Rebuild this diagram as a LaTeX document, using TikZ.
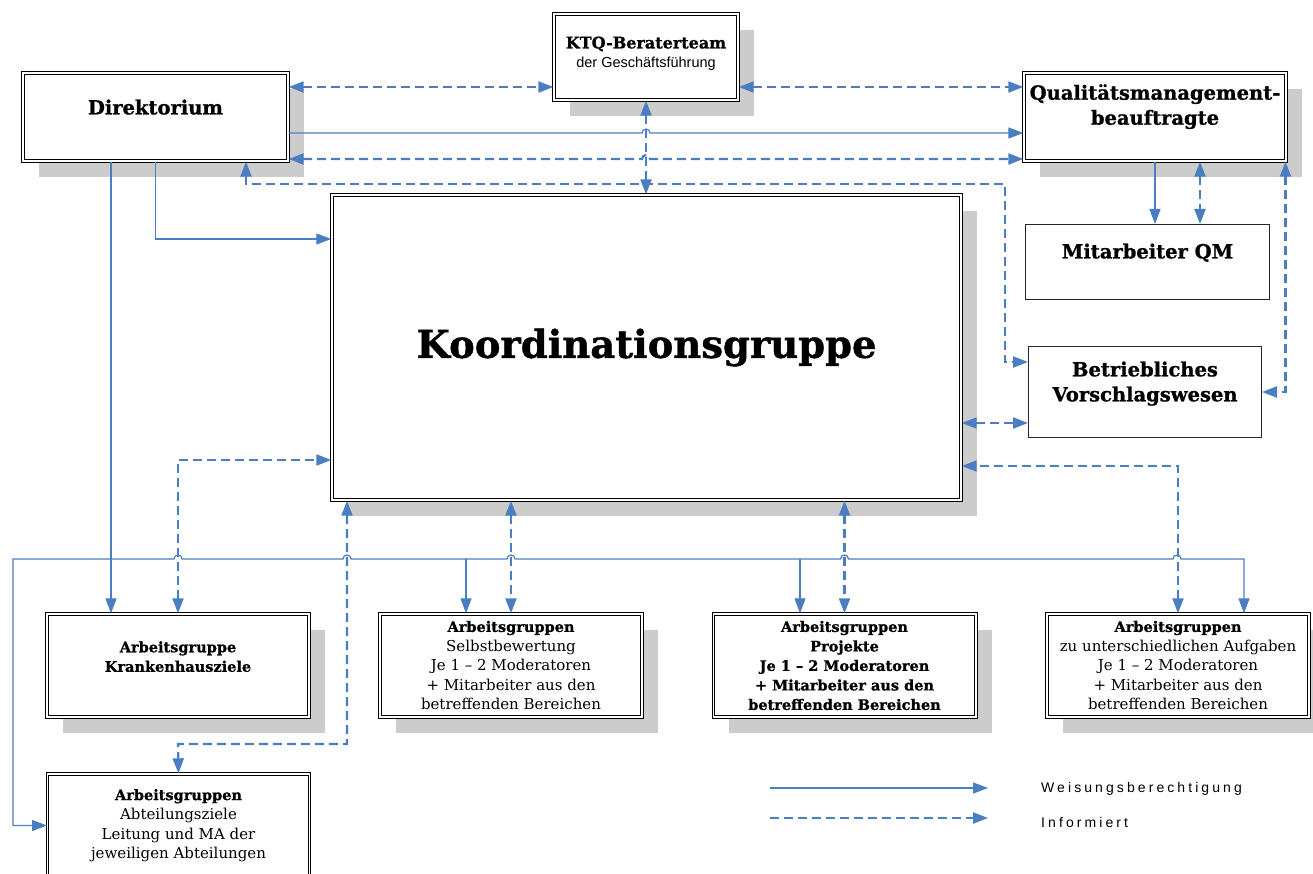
\documentclass[tikz,border=0pt]{standalone}
\usepackage{fontspec}
\setmainfont{DejaVu Serif}[BoldFeatures={FakeBold=1}]
\newfontfamily\legendfont[LetterSpace=22]{Liberation Sans}
\newfontfamily\ktqfont{Liberation Sans}
\newcommand{\grouptitle}[1]{{\bfseries\fontsize{14.5}{19.5}\selectfont #1}}
\usetikzlibrary{arrows.meta,shadows}
\definecolor{linkblue}{RGB}{74,126,193}
\definecolor{shadowgrey}{RGB}{204,204,204}

\begin{document}
\begin{tikzpicture}[x=1pt, y=-1pt, line join=miter,
    >={Triangle[length=15pt,width=11pt]},
    framed/.style={draw=black, double, double distance=1.6pt, line width=1pt, fill=white, inner sep=0pt, align=center},
    box/.style={framed, general shadow={fill=shadowgrey, shadow xshift=16pt, shadow yshift=-16pt}},
    plainbox/.style={draw=black!85, line width=1pt, fill=white, inner sep=0pt, align=center},
    head/.style={font=\bfseries\fontsize{19.5}{25}\selectfont},
    small/.style={font=\fontsize{15}{19.5}\selectfont},
    legend/.style={font=\legendfont\fontsize{14}{16}\selectfont, inner sep=0pt},
    rule/.style={draw=linkblue, line width=1.2pt},
    info/.style={draw=linkblue, line width=2.2pt, dash pattern=on 9pt off 5pt}]
    \useasboundingbox (0,0) rectangle (1313,874);

    % Leitung
    \node[box, head, minimum width=265.4pt, minimum height=88.4pt, text depth=20pt] (dir) at (155.5,117) {Direktorium};
    \node[box, minimum width=184.4pt, minimum height=86.4pt, text depth=10pt, font=\fontsize{16}{19}\selectfont] (ktq) at (646,57)
      {\textbf{KTQ-Beraterteam}\\{\ktqfont\fontsize{14.5}{19}\selectfont der Geschäftsführung}};
    \node[box, head, minimum width=262.4pt, minimum height=88.4pt, text depth=25pt] (qm) at (1155,117) {Qualitätsmanagement-\\beauftragte};
    \node[box, minimum width=629.4pt, minimum height=305.4pt, font=\bfseries\fontsize{38.5}{42}\selectfont] (koord) at (646.5,347.5) {Koordinationsgruppe};
    \node[plainbox, head, minimum width=244pt, minimum height=75pt, text depth=22pt] (maqm) at (1147.5,262) {Mitarbeiter QM};
    \node[plainbox, head, minimum width=233pt, minimum height=91pt, text height=23pt] (bvw) at (1145,392) {Betriebliches\\Vorschlagswesen};

    % Arbeitsgruppen
    \node[box, small, minimum width=262.4pt, minimum height=103.4pt, text depth=18pt] (khz) at (178,665.5)
      {\grouptitle{Arbeitsgruppe}\\\grouptitle{Krankenhausziele}};
    \node[box, small, minimum width=262.4pt, minimum height=103.4pt] (selbst) at (511,665.5)
      {\grouptitle{Arbeitsgruppen}\\Selbstbewertung\\Je 1 – 2 Moderatoren\\+ Mitarbeiter aus den\\betreffenden Bereichen};
    \node[box, minimum width=262.4pt, minimum height=103.4pt, font=\bfseries\fontsize{14.5}{19.5}\selectfont] (proj) at (844.5,665.5)
      {Arbeitsgruppen\\Projekte\\Je 1 – 2 Moderatoren\\+ Mitarbeiter aus den\\betreffenden Bereichen};
    \node[box, small, minimum width=262.4pt, minimum height=103.4pt] (aufg) at (1178,665.5)
      {\grouptitle{Arbeitsgruppen}\\zu unterschiedlichen Aufgaben\\Je 1 – 2 Moderatoren\\+ Mitarbeiter aus den\\betreffenden Bereichen};
    \node[framed, small, minimum width=262pt, minimum height=103.4pt] (abt) at (178.5,825.5)
      {\grouptitle{Arbeitsgruppen}\\Abteilungsziele\\Leitung und MA der\\jeweiligen Abteilungen};

    % Weisungsberechtigung
    \draw[rule, ->] (dir.east |- 0,133) -- (642,133) .. controls (642,127.7) and (650,127.7) .. (650,133) -- (qm.west |- 0,133);
    \draw[rule, ->] (dir.south) |- (koord.west |- 0,239);
    \draw[rule, ->] (dir.south -| 111,0) -- (khz.north -| 111,0);
    \draw[rule, ->] (qm.south) -- (qm.south |- maqm.north);
    \draw[rule, <->] (abt.west) -| (13,559) -- (174,559) .. controls (174,553.7) and (182,553.7) .. (182,559)
      -- (343,559) .. controls (343,553.7) and (351,553.7) .. (351,559)
      -- (507,559) .. controls (507,553.7) and (515,553.7) .. (515,559)
      -- (840.5,559) .. controls (840.5,553.7) and (848.5,553.7) .. (848.5,559)
      -- (1173,559) .. controls (1173,553.7) and (1181,553.7) .. (1181,559)
      -| (aufg.north -| 1244,0);
    \draw[rule, ->] (466,559) -- (selbst.north -| 466,0);
    \draw[rule, ->] (800,559) -- (proj.north -| 800,0);

    % Information
    \draw[info, <->] (dir.east |- 0,87) -- (ktq.west |- 0,87);
    \draw[info, <->] (ktq.east |- 0,87) -- (qm.west |- 0,87);
    \draw[info, <->] (dir.east |- 0,159) -- (642,159) .. controls (642,153.7) and (650,153.7) .. (650,159) -- (qm.west |- 0,159);
    \draw[info, <->] (ktq.south) -- (ktq.south |- koord.north);
    \draw[info, <->] (dir.south -| 246,0) |- (1005,184) |- (bvw.west |- 0,362);
    \draw[info, <->] (qm.south -| 1200,0) -- (maqm.north -| 1200,0);
    \draw[info, <->] (qm.south -| 1285.5,0) |- (bvw.east);
    \draw[info, <->] (koord.east |- 0,423) -- (bvw.west |- 0,423);
    \draw[info, <->] (khz.north) |- (koord.west |- 0,460);
    \draw[info, <->] (aufg.north) |- (koord.east |- 0,466);
    \draw[info, <->] (koord.south -| 347,0) |- (178,744) -- (abt.north);
    \draw[info, <->] (koord.south -| selbst.north) -- (selbst.north);
    \draw[info, <->] (koord.south -| proj.north) -- (proj.north);

    % Legende
    \coordinate (wbstart) at (770,788);
    \coordinate (wbend) at (988,788);
    \coordinate (infstart) at (770,818);
    \coordinate (infend) at (988,818);
    \draw[rule, ->] (wbstart) -- (wbend);
    \draw[info, ->] (infstart) -- (infend);
    \node[legend, anchor=west] (wb) at (1041,789) {Weisungsberechtigung};
    \node[legend, anchor=west] (inf) at (1041,822) {Informiert};

  \end{tikzpicture}
\end{document}
